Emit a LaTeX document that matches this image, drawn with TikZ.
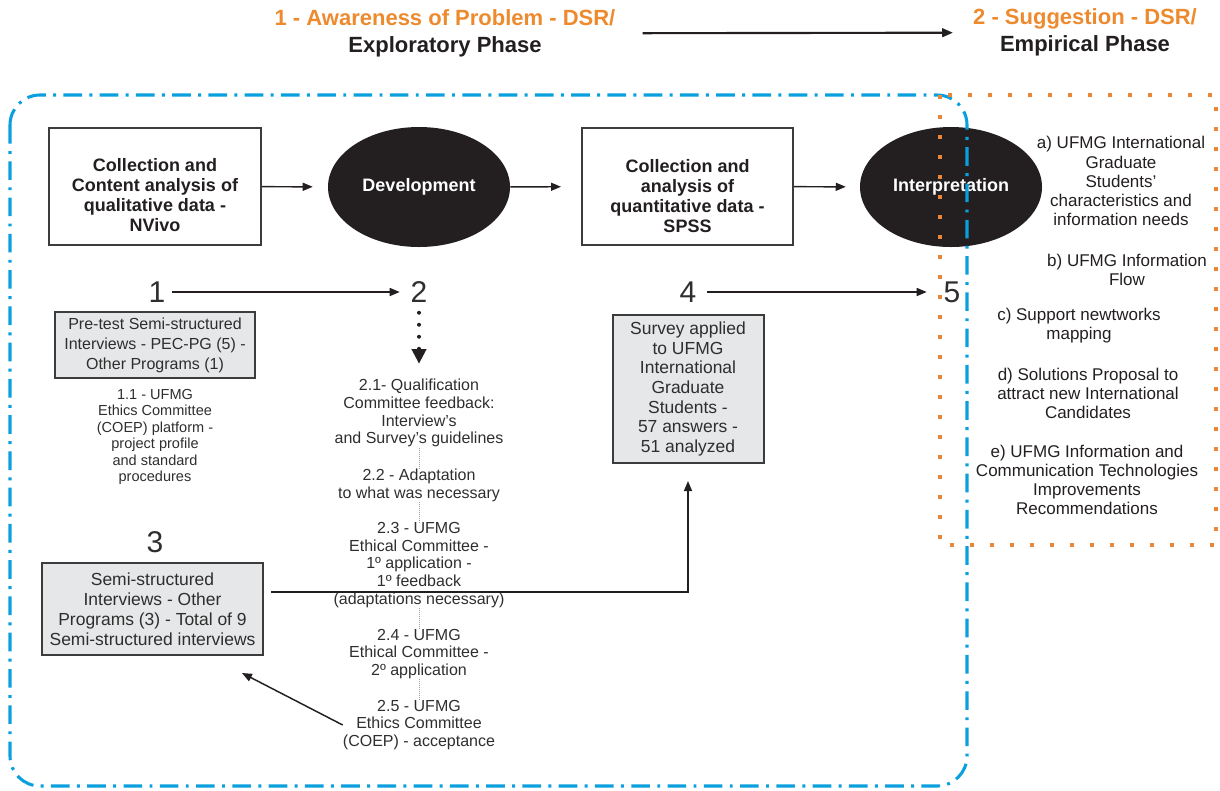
\documentclass[tikz,border=0pt]{standalone}
\usepackage{fontspec}
\setmainfont{Liberation Sans}
\usetikzlibrary{arrows.meta,shapes.geometric,calc}

\definecolor{ink}{HTML}{231F20}
\definecolor{txt}{HTML}{2E2E2E}
\definecolor{boxline}{HTML}{3C3C3C}
\definecolor{boxgray}{HTML}{E6E7E8}
\definecolor{dsrorange}{HTML}{EE8A2E}
\definecolor{dotorange}{HTML}{E8873A}
\definecolor{frameblue}{HTML}{0AA0DE}

% font size and baseline skip, both in pt
\newcommand{\fsz}[2]{\fontsize{#1}{#2}\selectfont}

\begin{document}
\begin{tikzpicture}[x=0.75pt,y=-0.75pt,
  heading/.style={align=center, inner sep=0pt, font=\fsz{16.5}{19.9}\bfseries},
  framebox/.style={draw=boxline, line width=1.5pt, fill=white, inner sep=0pt},
  boxtext/.style={align=center, inner sep=0pt, text=ink, font=\fsz{13.5}{15.2}\bfseries},
  graybox/.style={draw=boxline, line width=1.5pt, fill=boxgray, align=center, inner sep=0pt, text=txt},
  blob/.style={ellipse, fill=ink, text=white, font=\fsz{13.5}{15}\bfseries,
    minimum width=136.5pt, minimum height=90pt, inner sep=0pt},
  stepnum/.style={font=\fsz{22.5}{24}, text=txt, inner sep=0pt},
  note/.style={align=center, inner sep=0pt, text=txt, font=\fsz{12}{13.4}},
  smallnote/.style={align=center, inner sep=0pt, text=txt, font=\fsz{10.9}{12.4}},
  result/.style={align=center, inner sep=0pt, text=ink, font=\fsz{12.75}{14.3}},
  link/.style={draw=ink, line width=1.1pt, -{Triangle[length=7.5pt,width=6pt]}},
  phaselink/.style={draw=ink, line width=1.6pt, -{Triangle[length=8pt,width=6.5pt]}},
  dotlink/.style={draw=ink, line width=3pt, line cap=round, dash pattern=on 0pt off 9pt,
    -{Triangle[length=11pt,width=10.5pt,line cap=butt]}},
  finelink/.style={draw=gray!75, line width=0.6pt, dash pattern=on 0.6pt off 0.9pt},
  blueframe/.style={draw=frameblue, line width=2.3pt, rounded corners=22.5pt,
    dash pattern=on 14pt off 5.5pt on 2.2pt off 5.5pt},
  orangeframe/.style={draw=dotorange, line width=3pt, dash pattern=on 3pt off 12pt}
]
\useasboundingbox (0,0) rectangle (1220,790);

% phase headings
\node[heading] (phase1) at (445,33.5) {\textcolor{dsrorange}{1 - Awareness of Problem - DSR/}\\\textcolor{ink}{Exploratory Phase}};
\node[heading] (phase2) at (1085,32.5) {\textcolor{dsrorange}{2 - Suggestion - DSR/}\\\textcolor{ink}{Empirical Phase}};
\draw[phaselink, shorten <=20.25pt, shorten >=15pt] (phase1) -- (phase2);

% main stages
\node[framebox, minimum width=159pt, minimum height=87.75pt] (qual) at (155,186.5) {};
\node[boxtext] (qualtxt) at (155,195) {Collection and\\Content analysis of\\qualitative data -\\NVivo};
\node[blob] (dev) at (419,187) {Development};
\node[framebox, minimum width=158.25pt, minimum height=87.75pt] (quant) at (687.5,186.5) {};
\node[boxtext] (quanttxt) at (687.5,196) {Collection and\\analysis of\\quantitative data -\\SPSS};
\node[blob] (interp) at (951,187) {Interpretation};

\draw[link, shorten >=11.25pt] (qual) -- (dev);
\draw[link, shorten >=15pt] (dev) -- (quant);
\draw[link, shorten >=10.5pt] (quant) -- (interp);

% numbered steps
\node[stepnum] (n1) at (157,292) {1};
\node[stepnum] (n2) at (419,292) {2};
\node[stepnum] (n3) at (155,542) {3};
\node[stepnum] (n4) at (688,292) {4};
\node[stepnum] (n5) at (952,292) {5};

\draw[link, shorten <=5pt, shorten >=8pt] (n1) -- (n2);
\draw[link, shorten <=8pt, shorten >=12.5pt] (n4) -- (n5);

% step 1
\node[graybox, minimum width=150pt, minimum height=49.5pt, font=\fsz{12}{15}] (pretest) at (155,345)
  {Pre-test Semi-structured\\Interviews - PEC-PG (5) -\\Other Programs (1)};
\node[smallnote] (coep1) at (155,437)
  {1.1 - UFMG\\Ethics Committee\\(COEP) platform -\\project profile\\and standard\\procedures};

% step 2 sub-steps
\node[note] (s21) at (419,413) {2.1- Qualification\\Committee feedback:\\Interview’s\\and Survey’s guidelines};
\node[note] (s22) at (419,485) {2.2 - Adaptation\\to what was necessary};
\node[note] (s23) at (419,565) {2.3 - UFMG\\Ethical Committee -\\1º application -\\1º feedback\\(adaptations necessary)};
\node[note] (s24) at (419,654) {2.4 - UFMG\\Ethical Committee -\\2º application};
\node[note] (s25) at (419,725) {2.5 - UFMG\\Ethics Committee\\(COEP) - acceptance};

\draw[dotlink, shorten <=7.5pt, shorten >=11pt] (n2.south) -- (s21.north);
\draw[finelink] (s21.south) -- (s22.north);
\draw[finelink] (s22.south) -- (s23.north);
\draw[finelink] (s23.south) -- (s24.north);
\draw[finelink] (s24.south) -- (s25.north);

% step 3
\node[graybox, minimum width=165.75pt, minimum height=69pt, font=\fsz{13.1}{15}] (semi) at (152.5,609)
  {Semi-structured\\Interviews - Other\\Programs (3) - Total of 9\\Semi-structured interviews};
\draw[link] (s25.west) -- ($(semi.south east)+(-22,17)$);

% step 4
\node[graybox, minimum width=113.25pt, minimum height=111pt, font=\fsz{13.1}{14.8}] (survey) at (688,389)
  {Survey applied\\to UFMG\\International\\Graduate\\Students -\\57 answers -\\51 analyzed};
\draw[link, shorten >=12.75pt] (semi.east) ++(7,-17) -| (survey.south);

% interpretation results
\node[result] (ra) at (1121,181) {a) UFMG International\\Graduate\\Students’\\characteristics and\\information needs};
\node[result] (rb) at (1127,270) {b) UFMG Information\\Flow};
\node[result] (rc) at (1079,326) {c) Support newtworks\\mapping};
\node[result] (rd) at (1088,393) {d) Solutions Proposal to\\attract new International\\Candidates};
\node[result] (re) at (1087,480) {e) UFMG Information and\\Communication Technologies\\Improvements\\Recommendations};

% phase frames
\draw[blueframe] (10,95) rectangle (967,786);
\draw[orangeframe] (940,95) rectangle (1216,545);
\end{tikzpicture}
\end{document}
